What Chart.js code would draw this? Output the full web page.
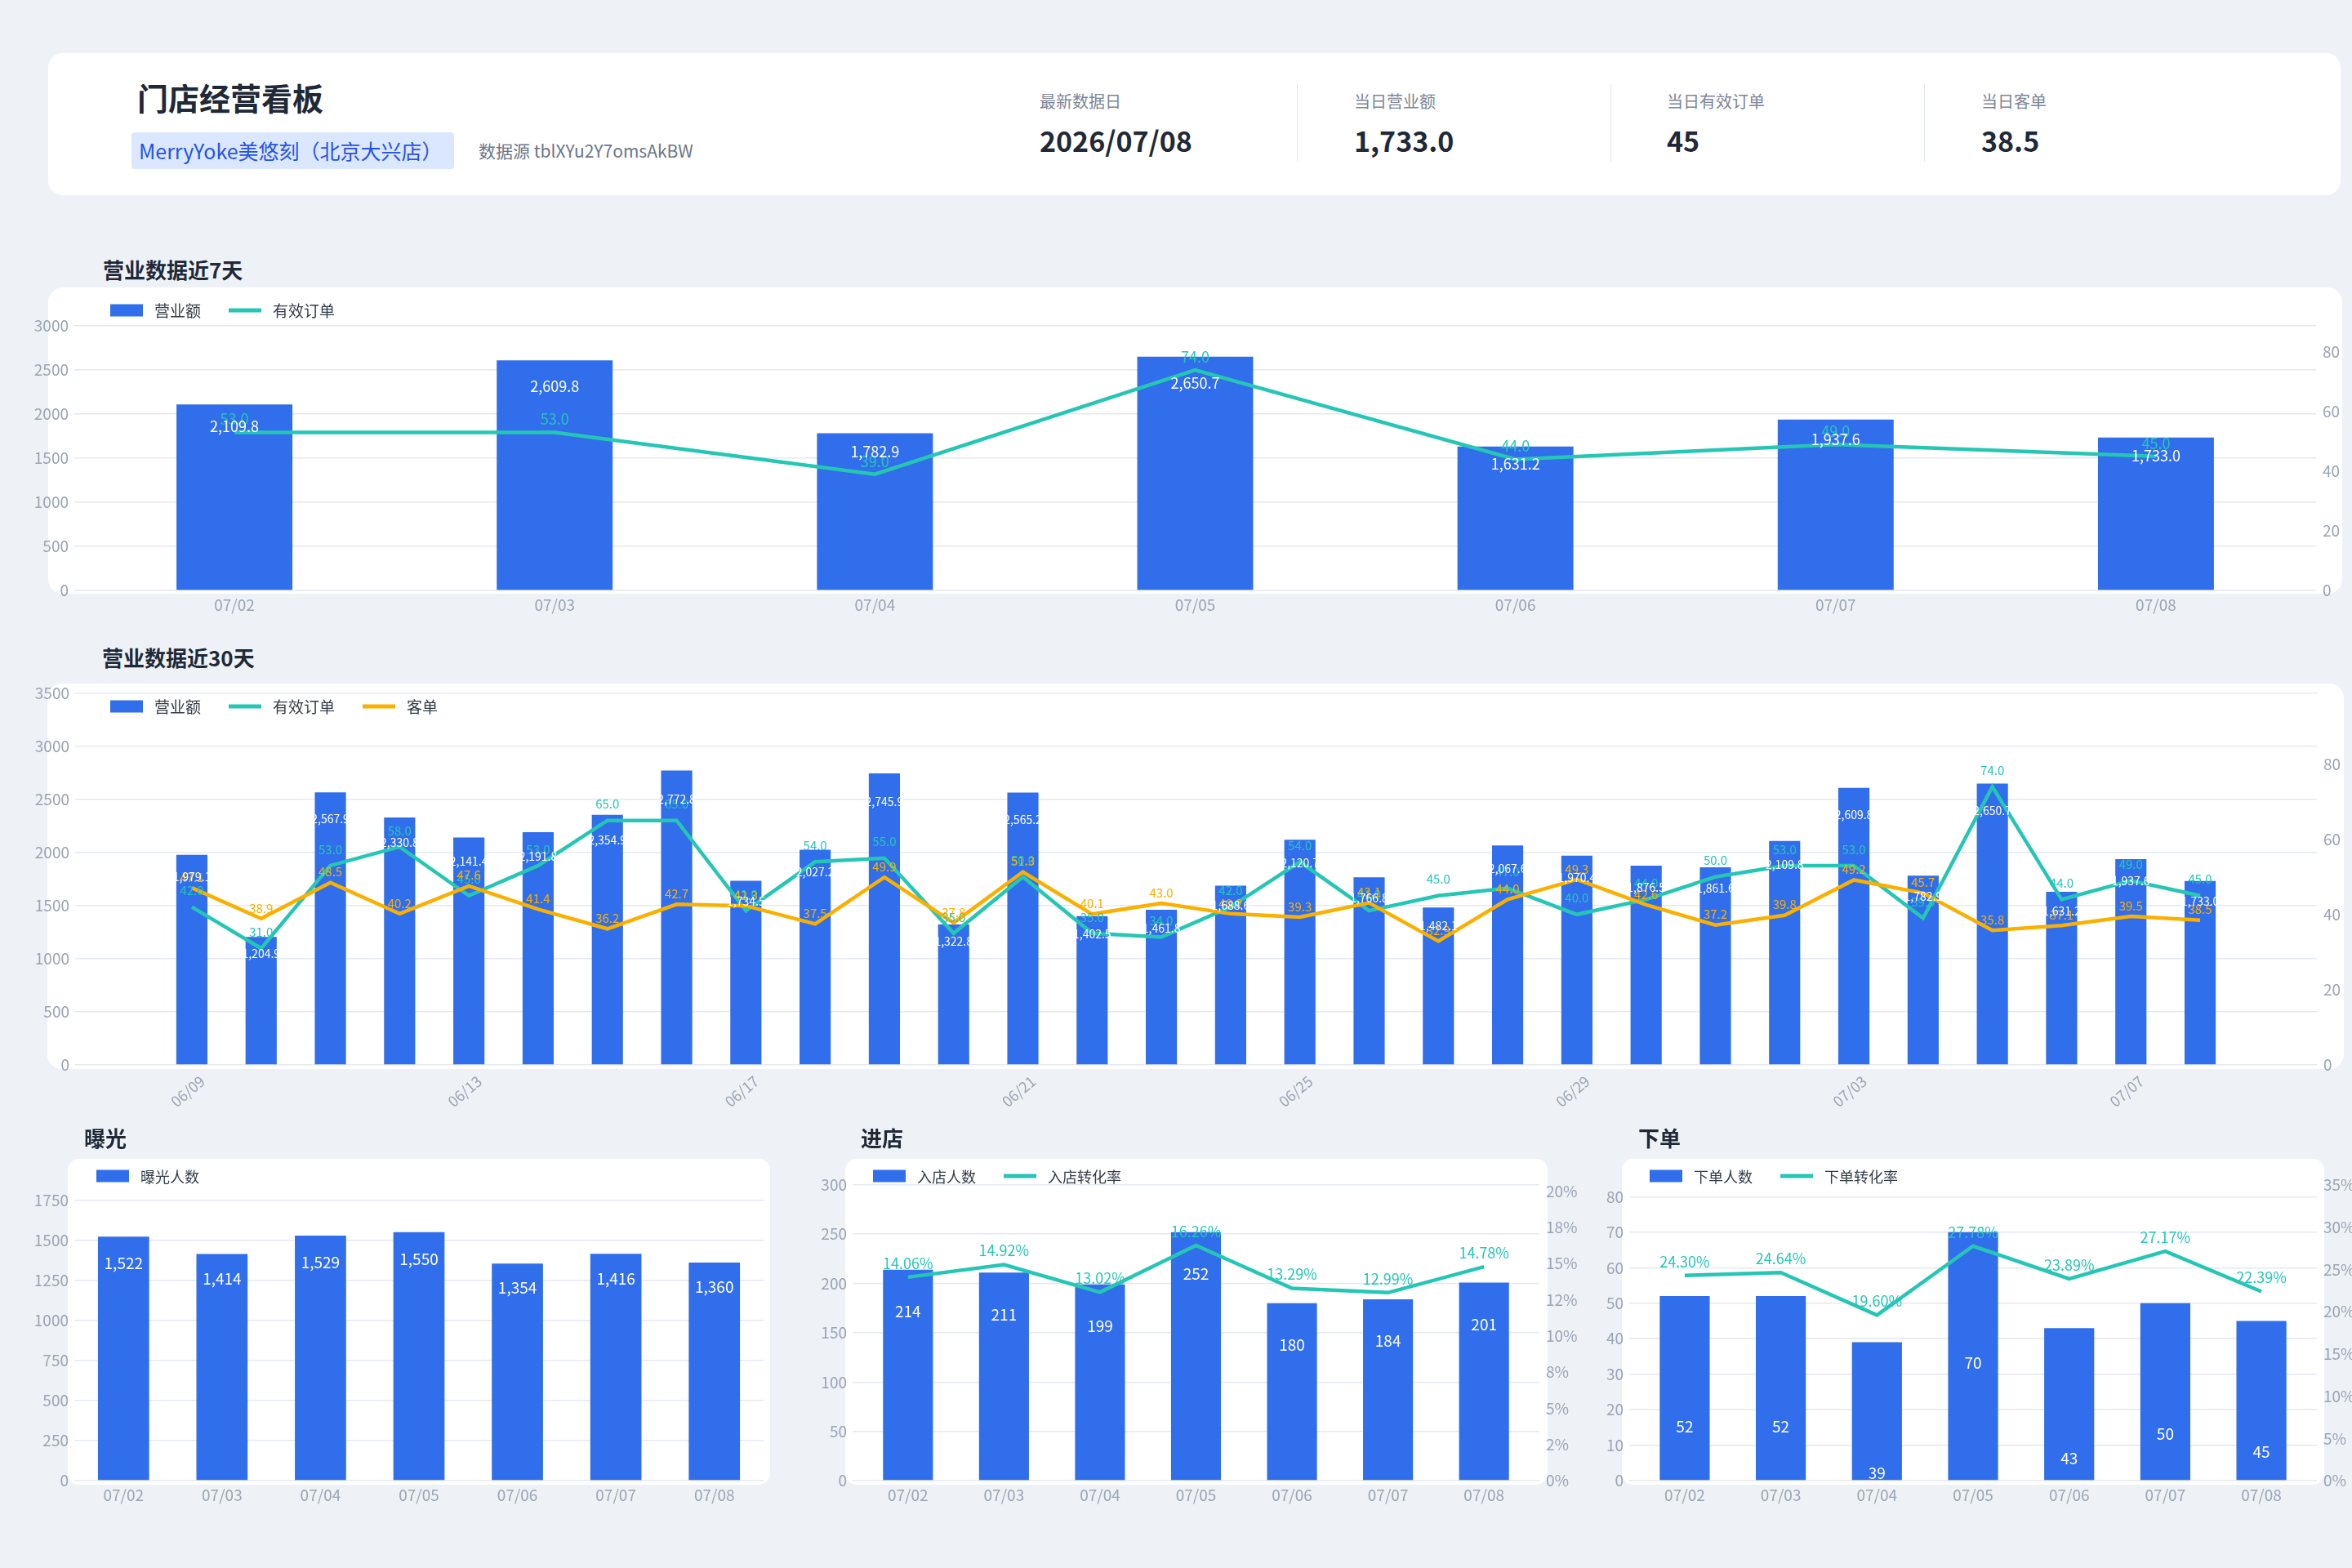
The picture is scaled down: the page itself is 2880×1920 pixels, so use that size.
<!DOCTYPE html>
<html lang="zh-CN">
<head>
<meta charset="utf-8">
<title>门店经营看板</title>
<script src="https://cdn.jsdelivr.net/npm/chart.js@4.4.1/dist/chart.umd.min.js"></script>
<style>
  * { margin: 0; padding: 0; box-sizing: border-box; }
  body {
    width: 2880px; height: 1920px; position: relative; overflow: hidden;
    background: #eef2f7;
    font-family: "Noto Sans CJK SC", "Noto Sans", sans-serif;
    color: #1f2937;
  }
  .card { position: absolute; background: #fff; border-radius: 18px; }
  .txt { position: absolute; white-space: nowrap; }
  .sec { font-size: 26px; font-weight: 700; line-height: 30px; height: 30px; color: #1f2937; }
  .kpi-label { font-size: 20px; line-height: 24px; color: #7c8698; }
  .kpi-value { font-size: 34px; font-weight: 700; line-height: 40px; color: #1f2937; }
  .divider { position: absolute; width: 1px; background: #e3e8f0; top: 103px; height: 95px; }
  canvas { position: absolute; }
</style>
</head>
<body>

<!-- 顶部信息卡 -->
<div class="card" style="left:59px;top:65px;width:2807px;height:174px;"></div>
<div class="txt" style="left:168px;top:98px;font-size:38px;line-height:42px;font-weight:700;">门店经营看板</div>
<div class="txt" style="left:161px;top:162px;width:395px;height:45px;background:#dbe7fe;border-radius:4px;"></div>
<div class="txt" style="left:170px;top:162px;font-size:25px;line-height:45px;color:#2552e6;">MerryYoke美悠刻（北京大兴店）</div>
<div class="txt" style="left:586px;top:171px;font-size:21px;line-height:26px;color:#6b7689;">数据源 tblXYu2Y7omsAkBW</div>

<div class="txt kpi-label" style="left:1273px;top:112px;">最新数据日</div>
<div class="txt kpi-value" style="left:1273px;top:152px;">2026/07/08</div>
<div class="divider" style="left:1588px;"></div>
<div class="txt kpi-label" style="left:1658px;top:112px;">当日营业额</div>
<div class="txt kpi-value" style="left:1658px;top:152px;">1,733.0</div>
<div class="divider" style="left:1972px;"></div>
<div class="txt kpi-label" style="left:2041px;top:112px;">当日有效订单</div>
<div class="txt kpi-value" style="left:2041px;top:152px;">45</div>
<div class="divider" style="left:2356px;"></div>
<div class="txt kpi-label" style="left:2426px;top:112px;">当日客单</div>
<div class="txt kpi-value" style="left:2426px;top:152px;">38.5</div>

<!-- 近7天 -->
<div class="txt sec" style="left:126px;top:315px;">营业数据近7天</div>
<div class="card" style="left:59px;top:352px;width:2809px;height:375px;"></div>
<canvas id="chart7" width="2880" height="430" style="left:0;top:340px;"></canvas>

<!-- 近30天 -->
<div class="txt sec" style="left:125px;top:790px;">营业数据近30天</div>
<div class="card" style="left:58px;top:837px;width:2812px;height:472px;"></div>
<canvas id="chart30" width="2880" height="580" style="left:0;top:800px;"></canvas>

<!-- 曝光 / 进店 / 下单 -->
<div class="txt sec" style="left:103px;top:1378px;">曝光</div>
<div class="card" style="left:83px;top:1419px;width:860px;height:399px;border-radius:14px;"></div>
<div class="txt sec" style="left:1054px;top:1378px;">进店</div>
<div class="card" style="left:1035px;top:1419px;width:860px;height:399px;border-radius:14px;"></div>
<div class="txt sec" style="left:2006px;top:1378px;">下单</div>
<div class="card" style="left:1986px;top:1419px;width:860px;height:399px;border-radius:14px;"></div>
<canvas id="chartExpo" width="960" height="440" style="left:0;top:1420px;"></canvas>
<canvas id="chartVisit" width="1000" height="440" style="left:960px;top:1420px;"></canvas>
<canvas id="chartOrder" width="940" height="440" style="left:1940px;top:1420px;"></canvas>

<script>
// ---- 近7天 ----
const days7 = ['07/02', '07/03', '07/04', '07/05', '07/06', '07/07', '07/08'];
const revenue7 = [2109.8, 2609.8, 1782.9, 2650.7, 1631.2, 1937.6, 1733.0];
const orders7 = [53, 53, 39, 74, 44, 49, 45];

// ---- 近30天 ----
const days30 = ['06/09', '06/10', '06/11', '06/12', '06/13', '06/14', '06/15', '06/16', '06/17', '06/18',
                '06/19', '06/20', '06/21', '06/22', '06/23', '06/24', '06/25', '06/26', '06/27', '06/28',
                '06/29', '06/30', '07/01', '07/02', '07/03', '07/04', '07/05', '07/06', '07/07', '07/08'];
const revenue30 = [1979.1, 1204.9, 2567.9, 2330.8, 2141.4, 2191.8, 2354.9, 2772.8, 1734.5, 2027.2,
                   2745.9, 1322.8, 2565.2, 1402.5, 1461.8, 1688.6, 2120.7, 1766.8, 1482.1, 2067.6,
                   1970.4, 1876.5, 1861.6, 2109.8, 2609.8, 1782.9, 2650.7, 1631.2, 1937.6, 1733.0];
const orders30 = [42, 31, 53, 58, 45, 53, 65, 65, 41, 54,
                  55, 35, 50, 35, 34, 42, 54, 41, 45, 47,
                  40, 44, 50, 53, 53, 39, 74, 44, 49, 45];
const ticket30 = [47.1, 38.9, 48.5, 40.2, 47.6, 41.4, 36.2, 42.7, 42.3, 37.5,
                  49.9, 37.8, 51.3, 40.1, 43.0, 40.2, 39.3, 43.1, 32.9, 44.0,
                  49.3, 42.6, 37.2, 39.8, 49.2, 45.7, 35.8, 37.1, 39.5, 38.5];

// ---- 漏斗（近7天） ----
const exposure = [1522, 1414, 1529, 1550, 1354, 1416, 1360];
const visitors = [214, 211, 199, 252, 180, 184, 201];
const visitRate = [14.06, 14.92, 13.02, 16.26, 13.29, 12.99, 14.78];
const buyers = [52, 52, 39, 70, 43, 50, 45];
const buyRate = [24.30, 24.64, 19.60, 27.78, 23.89, 27.17, 22.39];
const visitRateTicks = ['0%', '2%', '5%', '8%', '10%', '12%', '15%', '18%', '20%'];

const BLUE = '#306eeb';
const TEAL = '#26c6b5';
const ORANGE = '#f9b000';
const GRID = '#e4e9f1';
const TICK = '#9ba4b4';
const FONT = '"Noto Sans CJK SC", "Noto Sans", sans-serif';

Chart.defaults.font.family = FONT;
Chart.defaults.color = TICK;

const fmtMoney = v => v.toLocaleString('en-US', { minimumFractionDigits: 1, maximumFractionDigits: 1 });
const fmtInt = v => v.toLocaleString('en-US');
const fmt1 = v => v.toFixed(1);
const fmtPct = v => v.toFixed(2) + '%';
const asPoints = arr => arr.map((v, i) => ({ x: i, y: v }));

// 图例：色块 / 线段 + 文字，画在指定位置
const sideLegend = {
    id: 'sideLegend',
    afterDraw(chart, args, opts) {
        const ctx = chart.ctx;
        let x = opts.x;
        ctx.save();
        ctx.font = opts.size + 'px ' + FONT;
        ctx.textBaseline = 'middle';
        ctx.textAlign = 'left';
        chart.data.datasets.forEach(ds => {
            if (ds.type === 'line') {
                ctx.fillStyle = ds.borderColor;
                ctx.fillRect(x, opts.y - 2.5, 40, 5);
            } else {
                ctx.fillStyle = ds.backgroundColor;
                ctx.fillRect(x, opts.y - 7.5, 40, 15);
            }
            x += 54;
            ctx.fillStyle = '#353c48';
            ctx.fillText(ds.label, x, opts.y + 1);
            x += ctx.measureText(ds.label).width + 34;
        });
        ctx.restore();
    }
};

// 数值标签
const valueLabels = {
    id: 'valueLabels',
    afterDatasetsDraw(chart) {
        const ctx = chart.ctx;
        const lineIdx = [], barIdx = [];
        chart.data.datasets.forEach((ds, i) => {
            if (!ds.valueLabel) return;
            (ds.type === 'line' ? lineIdx : barIdx).push(i);
        });
        ctx.save();
        ctx.textAlign = 'center';
        ctx.textBaseline = 'middle';
        lineIdx.concat(barIdx).forEach(i => {
            const ds = chart.data.datasets[i];
            const lab = ds.valueLabel;
            ctx.font = lab.size + 'px ' + FONT;
            ctx.fillStyle = lab.color;
            chart.getDatasetMeta(i).data.forEach((el, j) => {
                const raw = ds.data[j];
                const v = typeof raw === 'object' ? raw.y : raw;
                ctx.fillText(lab.fmt(v), el.x, lab.pos(el));
            });
        });
        ctx.restore();
    }
};

// 刻度：从 0 起按步长取，不含非整步的上限
function stepTicks(step) {
    return function (s) {
        const t = [];
        for (let v = 0; v <= s.max + 1e-9; v += step) t.push({ value: Math.round(v * 1000) / 1000 });
        s.ticks = t;
    };
}

function leftAxis(max, step, width, size) {
    return {
        position: 'left', min: 0, max: max,
        grid: { color: GRID, lineWidth: 1.5, drawTicks: false },
        border: { display: false },
        ticks: { padding: 7, color: TICK, font: { size: size }, callback: v => String(v) },
        afterBuildTicks: stepTicks(step),
        afterFit(s) { s.width = width; }
    };
}

function rightAxis(max, step, width, size, cb) {
    return {
        position: 'right', min: 0, max: max,
        grid: { display: false, drawTicks: false },
        border: { display: false },
        ticks: { padding: 8, color: TICK, font: { size: size }, callback: cb || (v => String(v)) },
        afterBuildTicks: stepTicks(step),
        afterFit(s) { s.width = width; }
    };
}

function barSet(label, data, pct, lab) {
    return {
        type: 'bar', label: label, data: data, backgroundColor: BLUE,
        categoryPercentage: 1, barPercentage: pct, order: 3, valueLabel: lab
    };
}

function lineSet(label, data, color, axis, order, lab) {
    return {
        type: 'line', label: label, data: data, borderColor: color, backgroundColor: color,
        borderWidth: 4.5, pointRadius: 0, tension: 0, yAxisID: axis, order: order, valueLabel: lab
    };
}

function baseOptions(padding, legend) {
    return {
        responsive: false,
        devicePixelRatio: 1,
        animation: false,
        layout: { padding: padding },
        plugins: { legend: { display: false }, tooltip: { enabled: false }, sideLegend: legend }
    };
}

// 线性 x 轴：左右留出 pad 个类目宽的空白
function linearX(labels, pad, step, extraTicks) {
    return {
        type: 'linear', offset: false, min: -0.5 - pad, max: labels.length - 0.5 + pad,
        grid: { display: false, drawTicks: false, offset: false }, border: { display: false },
        ticks: Object.assign({ padding: 6, color: TICK, font: { size: 19 }, autoSkip: false,
                               maxRotation: 0, callback: v => labels[v] || '' }, extraTicks || {}),
        afterBuildTicks(s) {
            const t = [];
            for (let i = 0; i < labels.length; i += step) t.push({ value: i });
            s.ticks = t;
        }
    };
}

// 近7天
{
    const opts = baseOptions({ top: 59, left: 0, right: 0, bottom: 0 }, { x: 135, y: 40, size: 19 });
    opts.scales = {
        x: {
            type: 'category', offset: true,
            grid: { display: false, drawTicks: false }, border: { display: false },
            ticks: { padding: 6, color: TICK, font: { size: 19 } },
            afterFit(s) { s.height = 47; }
        },
        y: leftAxis(3000, 500, 91, 19),
        y1: rightAxis(88.8, 20, 44, 19)
    };
    new Chart(document.getElementById('chart7'), {
        data: {
            labels: days7,
            datasets: [
                barSet('营业额', revenue7, 0.362,
                    { size: 18, color: '#ffffff', fmt: fmtMoney, pos: el => el.y + 4 + 0.1 * (el.base - el.y) }),
                lineSet('有效订单', orders7, TEAL, 'y1', 1,
                    { size: 18, color: TEAL, fmt: fmt1, pos: el => el.y - 16 })
            ]
        },
        options: opts,
        plugins: [sideLegend, valueLabels]
    });
}

// 近30天
{
    const opts = baseOptions({ top: 49, left: 0, right: 0, bottom: 0 }, { x: 135, y: 65, size: 19 });
    const x = linearX(days30, 1.186, 4,
        { font: { size: 18 }, minRotation: 40, maxRotation: 40, padding: 9, labelOffset: 13 });
    x.afterFit = s => { s.height = 76; };
    opts.scales = {
        x: x,
        y: leftAxis(3500, 500, 92, 19),
        y1: rightAxis(98.8, 20, 43, 19)
    };
    new Chart(document.getElementById('chart30'), {
        data: {
            datasets: [
                barSet('营业额', asPoints(revenue30), 0.45,
                    { size: 14, color: '#ffffff', fmt: fmtMoney, pos: el => el.y + 8.5 + 0.073 * (el.base - el.y) }),
                lineSet('有效订单', asPoints(orders30), TEAL, 'y1', 2,
                    { size: 15, color: TEAL, fmt: fmt1, pos: el => el.y - 20 }),
                lineSet('客单', asPoints(ticket30), ORANGE, 'y1', 1,
                    { size: 15, color: ORANGE, fmt: fmt1, pos: el => el.y - 13 })
            ]
        },
        options: opts,
        plugins: [sideLegend, valueLabels]
    });
}

// 曝光
{
    const opts = baseOptions({ top: 28, left: 0, right: 25, bottom: 0 }, { x: 118, y: 20, size: 18 });
    opts.scales = {
        x: {
            type: 'category', offset: true,
            grid: { display: false, drawTicks: false }, border: { display: false },
            ticks: { padding: 6, color: TICK, font: { size: 19 } },
            afterFit(s) { s.height = 47; }
        },
        y: leftAxis(1860, 250, 91, 19)
    };
    new Chart(document.getElementById('chartExpo'), {
        data: {
            labels: days7,
            datasets: [
                barSet('曝光人数', exposure, 0.52,
                    { size: 19, color: '#ffffff', fmt: fmtInt, pos: el => el.y + 0.11 * (el.base - el.y) })
            ]
        },
        options: opts,
        plugins: [sideLegend, valueLabels]
    });
}

function funnelX() {
    const x = linearX(days7, 0.077, 1);
    x.afterFit = s => { s.height = 47; };
    return x;
}

// 进店
{
    const opts = baseOptions({ top: 28, left: 0, right: 0, bottom: 0 }, { x: 109, y: 20, size: 18 });
    opts.scales = {
        x: funnelX(),
        y: leftAxis(302.4, 50, 84, 19),
        y1: rightAxis(20.6, 2.5, 75, 19, (v, i) => visitRateTicks[i])
    };
    new Chart(document.getElementById('chartVisit'), {
        data: {
            datasets: [
                barSet('入店人数', asPoints(visitors), 0.52,
                    { size: 19, color: '#ffffff', fmt: fmtInt, pos: el => el.y + 51 }),
                lineSet('入店转化率', asPoints(visitRate), TEAL, 'y1', 1,
                    { size: 18, color: TEAL, fmt: fmtPct, pos: el => el.y - 17 })
            ]
        },
        options: opts,
        plugins: [sideLegend, valueLabels]
    });
}

// 下单
{
    const opts = baseOptions({ top: 28, left: 0, right: 0, bottom: 0 }, { x: 80, y: 20, size: 18 });
    opts.scales = {
        x: funnelX(),
        y: leftAxis(84, 10, 55, 19),
        y1: rightAxis(35.3, 5, 43, 19, v => v + '%')
    };
    new Chart(document.getElementById('chartOrder'), {
        data: {
            datasets: [
                barSet('下单人数', asPoints(buyers), 0.52,
                    { size: 19, color: '#ffffff', fmt: fmtInt, pos: el => el.y + 160 }),
                lineSet('下单转化率', asPoints(buyRate), TEAL, 'y1', 1,
                    { size: 18, color: TEAL, fmt: fmtPct, pos: el => el.y - 17 })
            ]
        },
        options: opts,
        plugins: [sideLegend, valueLabels]
    });
}
</script>
</body>
</html>
